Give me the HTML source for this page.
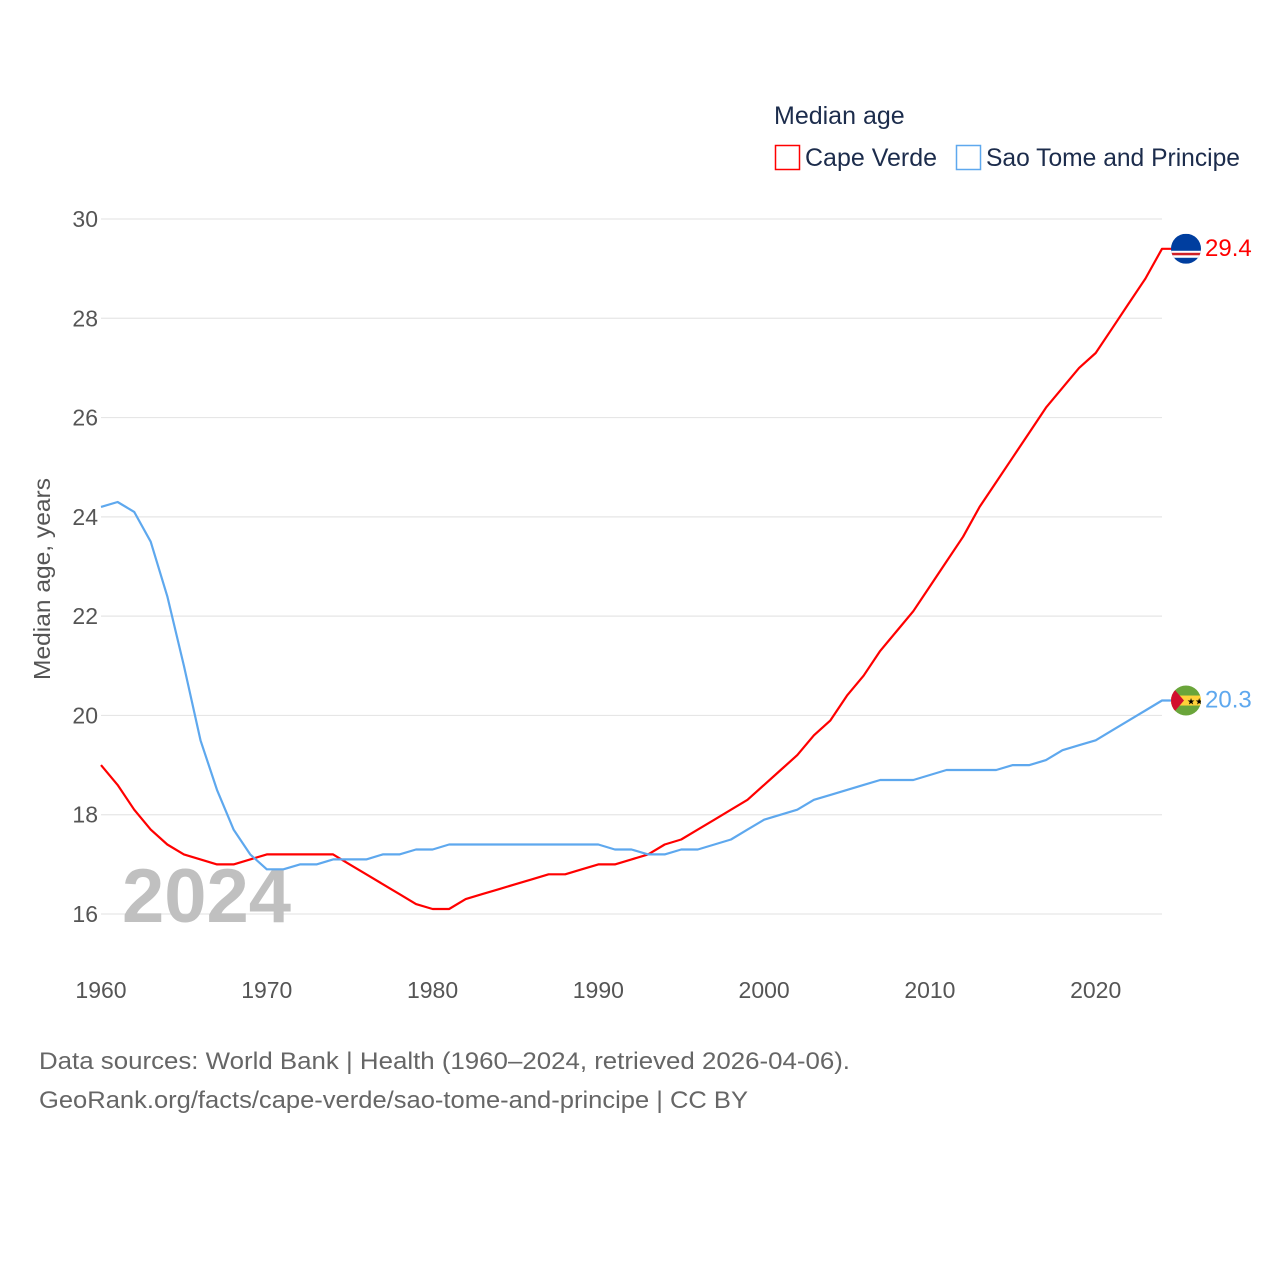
<!DOCTYPE html>
<html><head><meta charset="utf-8"><style>
body{margin:0;background:#fff;font-family:"Liberation Sans",sans-serif}
svg text{font-family:"Liberation Sans",sans-serif}
</style></head><body>
<svg id="chart" width="1280" height="1280" xmlns="http://www.w3.org/2000/svg">
<g id="grid"></g>
<g id="yticks"></g>
<g id="xticks"></g>
<text x="122" y="922" font-size="76" font-weight="bold" fill="#c0c0c0">2024</text>
<g id="lines"></g>
<text transform="translate(50,579) rotate(-90)" text-anchor="middle" font-size="23" fill="#555" textLength="202" lengthAdjust="spacingAndGlyphs">Median age, years</text>
<g>
<text x="774" y="124" font-size="25" fill="#1c2c4c">Median age</text>
<g><rect x="775.5" y="145.5" width="24" height="24" fill="none" stroke="#ff0000" stroke-width="1.5"/><text x="805" y="166" font-size="25" fill="#1c2c4c">Cape Verde</text></g>
<g><rect x="956.5" y="145.5" width="24" height="24" fill="none" stroke="#5ea8ee" stroke-width="1.5"/><text x="986" y="166" font-size="25" fill="#1c2c4c" textLength="254" lengthAdjust="spacingAndGlyphs">Sao Tome and Principe</text></g>
</g>
<g id="flags"></g>
<text x="39" y="1069" font-size="24" fill="#666" textLength="811" lengthAdjust="spacingAndGlyphs">Data sources: World Bank | Health (1960–2024, retrieved 2026-04-06).</text>
<text x="39" y="1108" font-size="24" fill="#666" textLength="709" lengthAdjust="spacingAndGlyphs">GeoRank.org/facts/cape-verde/sao-tome-and-principe | CC BY</text>
</svg>
<script>
const years=[];for(let y=1960;y<=2024;y++)years.push(y);
const capeVerde=[19.0,18.6,18.1,17.7,17.4,17.2,17.1,17.0,17.0,17.1,17.2,17.2,17.2,17.2,17.2,17.0,16.8,16.6,16.4,16.2,16.1,16.1,16.3,16.4,16.5,16.6,16.7,16.8,16.8,16.9,17.0,17.0,17.1,17.2,17.4,17.5,17.7,17.9,18.1,18.3,18.6,18.9,19.2,19.6,19.9,20.4,20.8,21.3,21.7,22.1,22.6,23.1,23.6,24.2,24.7,25.2,25.7,26.2,26.6,27.0,27.3,27.8,28.3,28.8,29.4];
const saoTome=[24.2,24.3,24.1,23.5,22.4,21.0,19.5,18.5,17.7,17.2,16.9,16.9,17.0,17.0,17.1,17.1,17.1,17.2,17.2,17.3,17.3,17.4,17.4,17.4,17.4,17.4,17.4,17.4,17.4,17.4,17.4,17.3,17.3,17.2,17.2,17.3,17.3,17.4,17.5,17.7,17.9,18.0,18.1,18.3,18.4,18.5,18.6,18.7,18.7,18.7,18.8,18.9,18.9,18.9,18.9,19.0,19.0,19.1,19.3,19.4,19.5,19.7,19.9,20.1,20.3];
const yTicks=[16,18,20,22,24,26,28,30];
const xTicks=[1960,1970,1980,1990,2000,2010,2020];
const NS="http://www.w3.org/2000/svg";
const X=y=>101+(y-1960)*(1162-101)/64;
const Y=v=>914-(v-16)*(914-219)/14;
function mk(tag,attrs,parent,txt){const e=document.createElementNS(NS,tag);for(const k in attrs)e.setAttribute(k,attrs[k]);if(txt!==undefined)e.textContent=txt;parent.appendChild(e);return e;}
const grid=document.getElementById('grid'),yt=document.getElementById('yticks'),xt=document.getElementById('xticks');
yTicks.forEach(v=>{
 const l=mk('line',{x1:101,x2:1162,y1:Y(v),y2:Y(v),stroke:'#e6e6e6','stroke-width':1.2},grid);
 
 
 const t=mk('text',{x:98,y:Y(v)+8,'text-anchor':'end','font-size':23,fill:'#555'},yt,String(v));
 
 
});
xTicks.forEach(v=>{
 const t=mk('text',{x:X(v),y:998,'text-anchor':'middle','font-size':23,fill:'#555'},xt,String(v));
 
 
});
const lines=document.getElementById('lines'),flags=document.getElementById('flags');
function series(data,color,name){
 let d=data.map((v,i)=>(i?'L':'M')+X(years[i]).toFixed(1)+','+Y(v).toFixed(1)).join('');
 const last=data[data.length-1];
 d+='L'+(X(2024)+10)+','+Y(last).toFixed(1);
 const p=mk('path',{d:d,fill:'none',stroke:color,'stroke-width':2.2,'stroke-linejoin':'round'},lines);
 
 
 const t=mk('text',{x:1205,y:Y(last)+7,'font-size':24,fill:color},flags,last.toFixed(1));
 
 
 return Y(last);
}
const cy1=series(capeVerde,'#ff0000','cape-verde');
const cy2=series(saoTome,'#5ea8ee','sao-tome');
let g=mk('g',{},flags);


const cp1=mk('clipPath',{id:'c1'},g);mk('circle',{cx:1186,cy:cy1,r:15},cp1);
const g1=mk('g',{'clip-path':'url(#c1)'},g);
mk('rect',{x:1171,y:cy1-15,width:30,height:30,fill:'#003e9f'},g1);
mk('rect',{x:1171,y:cy1+2,width:30,height:7,fill:'#fff'},g1);
mk('rect',{x:1171,y:cy1+4,width:30,height:2.5,fill:'#cf2027'},g1);
let g2w=mk('g',{},flags);


const cp=mk('clipPath',{id:'c2'},g2w);mk('circle',{cx:1186,cy:cy2,r:15},cp);
const g2=mk('g',{'clip-path':'url(#c2)'},g2w);
mk('rect',{x:1171,y:cy2-15,width:30,height:30,fill:'#6aa53a'},g2);
mk('rect',{x:1171,y:cy2-5,width:30,height:10,fill:'#ffd13a'},g2);
mk('polygon',{points:`1171,${cy2-15} 1184,${cy2} 1171,${cy2+15}`,fill:'#d20f2f'},g2);
mk('text',{x:1187,y:cy2+4,'font-size':9,fill:'#000'},g2,'★★');
</script>
</body></html>
